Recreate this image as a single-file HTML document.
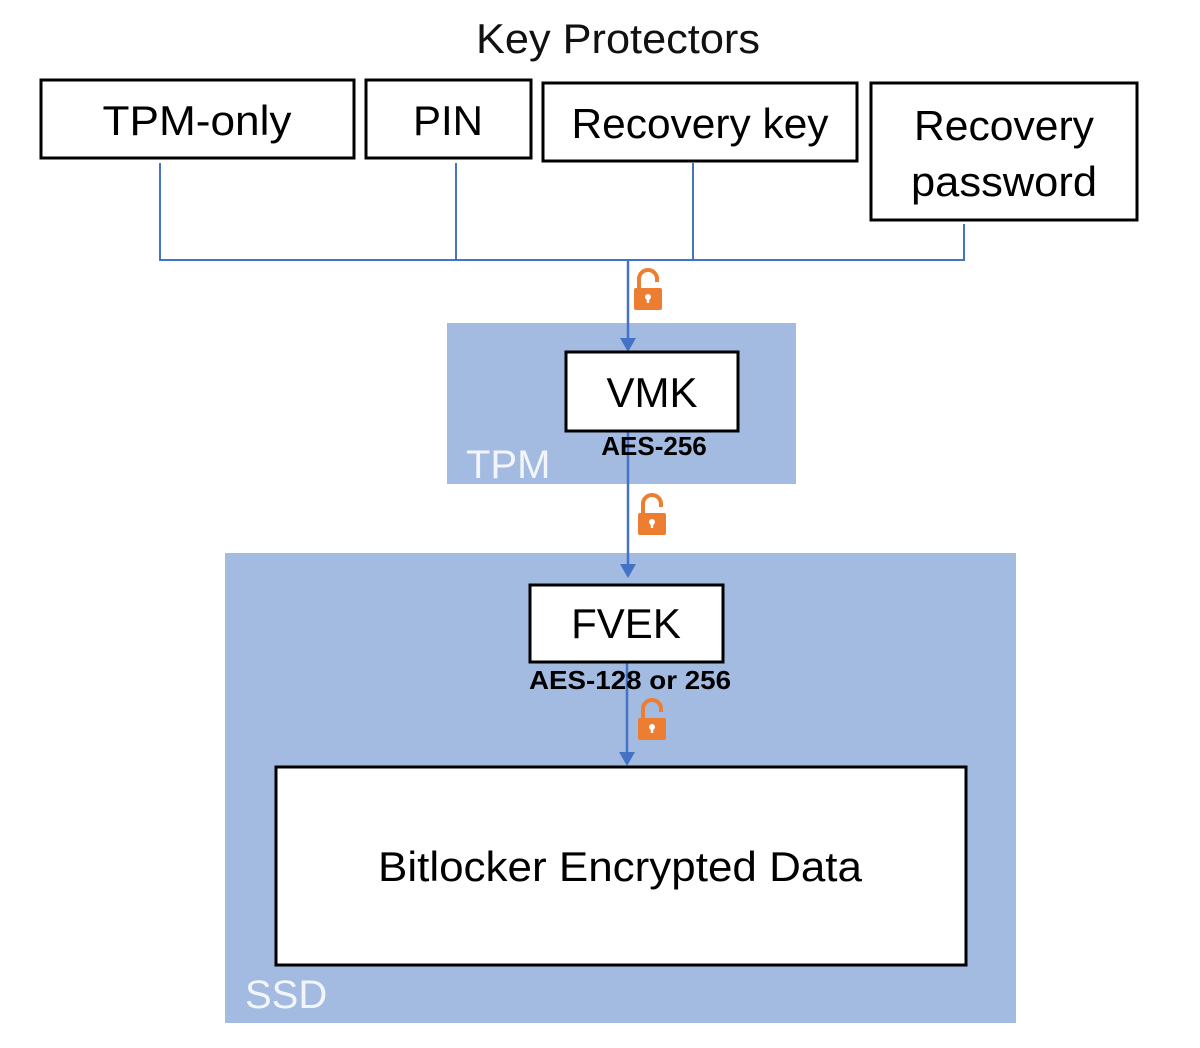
<!DOCTYPE html>
<html><head><meta charset="utf-8"><style>
html,body{margin:0;padding:0;background:#fff;}
svg{display:block;}
text{font-family:"Liberation Sans",sans-serif;}
</style></head><body>
<svg width="1200" height="1048" viewBox="0 0 1200 1048" xmlns="http://www.w3.org/2000/svg">
<defs>
<g id="lock">
<path d="M-9,0 V-9 A9,9 0 0 1 9,-9 V-6" fill="none" stroke="#ed7d31" stroke-width="4"/>
<rect x="-14" y="0" width="28" height="22" rx="2" fill="#ed7d31"/>
<circle cx="0" cy="9" r="3" fill="#fff"/>
<rect x="-1.2" y="9" width="2.4" height="6" fill="#fff"/>
</g>
</defs>
<text x="618" y="53" font-size="42" text-anchor="middle" fill="#111" textLength="284" lengthAdjust="spacingAndGlyphs">Key Protectors</text>
<g fill="#fff" stroke="#000" stroke-width="3">
<rect x="41" y="80" width="313" height="78"/>
<rect x="366" y="80" width="165" height="78"/>
<rect x="543" y="83" width="314" height="78"/>
<rect x="871" y="83" width="266" height="137"/>
</g>
<g font-size="42" text-anchor="middle" fill="#000">
<text x="197" y="135" textLength="189" lengthAdjust="spacingAndGlyphs">TPM-only</text>
<text x="448" y="135">PIN</text>
<text x="700" y="138" textLength="257" lengthAdjust="spacingAndGlyphs">Recovery key</text>
<text x="1004" y="140" textLength="180" lengthAdjust="spacingAndGlyphs">Recovery</text>
<text x="1004" y="196" textLength="186" lengthAdjust="spacingAndGlyphs">password</text>
</g>
<g stroke="#4472c4" stroke-width="2" fill="none">
<path d="M160,163 V260 H964 V224"/>
<path d="M456,163 V260"/>
<path d="M693,163 V260"/>
</g>
<rect x="447" y="323" width="349" height="161" fill="#a3bbe0"/>
<rect x="225" y="553" width="791" height="470" fill="#a3bbe0"/>
<text x="466" y="478" font-size="40" fill="#f2f5fb">TPM</text>
<text x="245" y="1008" font-size="40" fill="#f2f5fb">SSD</text>
<g stroke="#4472c4" stroke-width="2.5">
<line x1="628" y1="260" x2="628" y2="340"/>
<line x1="628" y1="431" x2="628" y2="566"/>
<line x1="627" y1="662" x2="627" y2="754"/>
</g>
<g fill="#4472c4">
<polygon points="620,338 636,338 628,352"/>
<polygon points="620,564 636,564 628,578"/>
<polygon points="619,752 635,752 627,766"/>
</g>
<g fill="#fff" stroke="#000" stroke-width="3">
<rect x="566" y="352" width="172" height="79"/>
<rect x="530" y="585" width="193" height="77"/>
<rect x="276" y="767" width="690" height="198"/>
</g>
<g text-anchor="middle" fill="#000">
<text x="652" y="407" font-size="42">VMK</text>
<text x="626" y="638" font-size="42">FVEK</text>
<text x="654" y="455" font-size="26" font-weight="bold">AES-256</text>
<text x="630" y="689" font-size="26" font-weight="bold" textLength="202" lengthAdjust="spacingAndGlyphs">AES-128 or 256</text>
<text x="620" y="881" font-size="42" textLength="484" lengthAdjust="spacingAndGlyphs">Bitlocker Encrypted Data</text>
</g>
<use href="#lock" x="648" y="288"/>
<use href="#lock" x="652" y="513"/>
<use href="#lock" x="652" y="718"/>
</svg>
</body></html>
